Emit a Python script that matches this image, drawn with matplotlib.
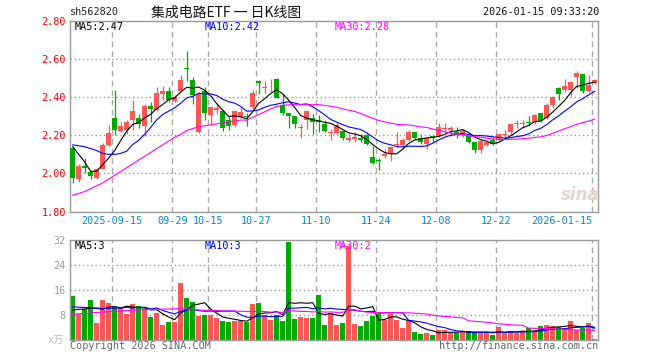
import numpy as np
import pandas as pd
import matplotlib
matplotlib.use("Agg")
import matplotlib.pyplot as plt

# daily candles (price)
opens = [2.135, 1.972, 2.04, 2.007, 1.977, 2.025, 2.149, 2.291, 2.225, 2.228,
         2.281, 2.291, 2.249, 2.354, 2.333, 2.419, 2.433, 2.38, 2.433, 2.554,
         2.491, 2.219, 2.43, 2.307, 2.335, 2.325, 2.279, 2.254, 2.297, 2.302,
         2.346, 2.486, 2.447, 2.451, 2.497, 2.36, 2.316, 2.302, 2.237, 2.279,
         2.29, 2.279, 2.261, 2.212, 2.214, 2.223, 2.177, 2.181, 2.184, 2.202,
         2.086, 2.072, 2.09, 2.10, 2.149, 2.149, 2.175, 2.216, 2.184, 2.153,
         2.195, 2.198, 2.233, 2.226, 2.219, 2.202, 2.196, 2.163, 2.123, 2.149,
         2.175, 2.175, 2.202, 2.216, 2.258, 2.258, 2.272, 2.268, 2.316, 2.29,
         2.36, 2.447, 2.437, 2.44, 2.504, 2.521, 2.43, 2.474]
highs = [2.14, 2.049, 2.079, 2.018, 2.03, 2.158, 2.254, 2.439, 2.27, 2.281,
         2.386, 2.312, 2.365, 2.375, 2.454, 2.46, 2.454, 2.41, 2.519, 2.644,
         2.507, 2.425, 2.456, 2.351, 2.37, 2.333, 2.302, 2.333, 2.351, 2.316,
         2.439, 2.491, 2.486, 2.495, 2.499, 2.416, 2.318, 2.303, 2.258, 2.333,
         2.311, 2.304, 2.281, 2.233, 2.263, 2.228, 2.209, 2.216, 2.205, 2.209,
         2.144, 2.079, 2.128, 2.14, 2.216, 2.188, 2.226, 2.219, 2.205, 2.191,
         2.202, 2.265, 2.265, 2.247, 2.244, 2.233, 2.202, 2.165, 2.175, 2.17,
         2.193, 2.209, 2.226, 2.261, 2.279, 2.279, 2.30, 2.314, 2.317, 2.367,
         2.405, 2.451, 2.495, 2.48, 2.539, 2.523, 2.514, 2.493]
lows = [1.95, 1.956, 2.004, 1.972, 1.972, 2.021, 2.144, 2.202, 2.218, 2.205,
        2.228, 2.239, 2.197, 2.27, 2.326, 2.386, 2.375, 2.375, 2.43, 2.486,
        2.365, 2.212, 2.281, 2.254, 2.31, 2.223, 2.228, 2.246, 2.29, 2.251,
        2.339, 2.416, 2.421, 2.426, 2.395, 2.307, 2.24, 2.24, 2.188, 2.233,
        2.209, 2.216, 2.216, 2.175, 2.207, 2.175, 2.167, 2.167, 2.163, 2.149,
        2.047, 2.018, 2.079, 2.065, 2.14, 2.135, 2.17, 2.181, 2.153, 2.128,
        2.163, 2.191, 2.216, 2.195, 2.188, 2.191, 2.158, 2.105, 2.109, 2.146,
        2.149, 2.17, 2.188, 2.205, 2.24, 2.237, 2.251, 2.261, 2.272, 2.286,
        2.342, 2.386, 2.426, 2.405, 2.447, 2.421, 2.426, 2.468]
closes = [1.977, 2.04, 2.03, 1.986, 2.025, 2.149, 2.212, 2.228, 2.249, 2.27,
          2.328, 2.258, 2.354, 2.34, 2.423, 2.433, 2.386, 2.402, 2.491, 2.547,
          2.412, 2.415, 2.316, 2.346, 2.342, 2.24, 2.251, 2.328, 2.321, 2.295,
          2.423, 2.472, 2.451, 2.454, 2.398, 2.316, 2.302, 2.261, 2.244, 2.328,
          2.272, 2.272, 2.223, 2.219, 2.254, 2.184, 2.184, 2.193, 2.174, 2.153,
          2.055, 2.065, 2.10, 2.139, 2.156, 2.175, 2.219, 2.188, 2.163, 2.188,
          2.188, 2.244, 2.24, 2.24, 2.202, 2.223, 2.167, 2.123, 2.17, 2.163,
          2.153, 2.205, 2.209, 2.258, 2.265, 2.263, 2.265, 2.307, 2.276, 2.36,
          2.402, 2.416, 2.461, 2.479, 2.526, 2.433, 2.465, 2.491]
volumes = [14.1, 8.4, 9.8, 12.8, 5.5, 12.8, 11.8, 10.7, 10.5, 8.3,
           11.5, 10.9, 10.0, 7.4, 8.7, 4.8, 5.8, 5.8, 18.3, 13.4,
           12.2, 7.8, 7.9, 8.0, 7.0, 6.1, 5.8, 6.2, 6.2, 5.8,
           11.5, 11.8, 7.9, 6.5, 7.9, 6.2, 31.4, 6.7, 7.4, 7.1,
           7.1, 14.4, 4.8, 8.8, 4.8, 5.4, 30.1, 5.1, 4.5, 6.1,
           7.7, 8.3, 6.4, 8.3, 6.4, 3.8, 6.4, 2.6, 1.9, 2.2,
           1.6, 3.2, 3.2, 2.2, 2.2, 2.6, 2.9, 2.6, 2.2, 2.2,
           1.6, 4.2, 2.2, 2.9, 2.2, 2.6, 3.8, 2.9, 4.5, 4.8,
           4.5, 4.2, 3.8, 6.1, 3.2, 3.8, 5.4, 0.3]

# moving average values before their window fills (earlier days are off-chart)
ma5_head = [2.14, 2.10, 2.06, 2.01]
ma10_head = [2.15, 2.145, 2.14, 2.13, 2.12, 2.105, 2.10, 2.10, 2.105]
ma30_head = [1.885, 1.895, 1.905, 1.92, 1.935, 1.95, 1.97, 1.99, 2.01, 2.03,
             2.05, 2.07, 2.09, 2.11, 2.13, 2.15, 2.17, 2.19, 2.205, 2.225,
             2.235, 2.245, 2.25, 2.255, 2.26, 2.265, 2.27, 2.275, 2.28]
vol_ma5_head = [9.6, 9.8, 9.9, 10.2]
vol_ma10_head = [10.6, 10.5, 10.4, 10.3, 10.2, 10.1, 10.1, 10.2, 10.2]
vol_ma30_head = [8.2, 8.4, 8.5, 8.7, 8.8, 8.9, 9.1, 9.2, 9.3, 9.4,
                 9.5, 9.6, 9.7, 9.8, 9.8, 9.9, 9.9, 10.0, 10.0, 9.9,
                 9.8, 9.6, 9.5, 9.4, 9.4, 9.3, 9.3, 9.2, 9.2]

tick_pos = [7, 17, 23, 31, 41, 51, 61, 71, 87]
tick_labels = ["2025-09-15", "09-29", "10-15", "10-27", "11-10",
               "11-24", "12-08", "12-22", "2026-01-15"]
price_ticks = [1.80, 2.00, 2.20, 2.40, 2.60, 2.80]
vol_ticks = [8, 16, 24, 32]

RED = "#ff5555"
GREEN = "#00aa00"
MONO = "DejaVu Sans Mono"
FS = 7.3


def moving_average(values, n, head):
    s = pd.Series(values, dtype=float).rolling(n).mean()
    s.iloc[:n - 1] = head
    return s.values


def draw_grid(ax, hlines):
    for p in tick_pos:
        ax.axvline(p - 0.4, color="#aaaaaa", linestyle=(0, (4, 3)), linewidth=1, zorder=0)
    for h in hlines:
        ax.axhline(h, color="#999999", linestyle=(0, (1, 2)), linewidth=1, zorder=0)
    for s in ax.spines.values():
        s.set_color("#999999")
        s.set_linewidth(1)
    ax.tick_params(length=0)
    ax.set_xticks([])


fig = plt.figure(figsize=(6.6, 3.6), dpi=100)
W, H = 660.0, 360.0
ax = fig.add_axes([70 / W, 1 - 211.5 / H, 528 / W, 190.5 / H])
axv = fig.add_axes([70 / W, 1 - 340 / H, 528 / W, 100 / H])

x = np.arange(len(closes))
up = [c >= o for o, c in zip(opens, closes)]
colors = [RED if u else GREEN for u in up]

# candles
ax.vlines(x, lows, highs, colors=colors, linewidth=0.9, zorder=2)
bottoms = [min(o, c) for o, c in zip(opens, closes)]
heights = [max(abs(c - o), 0.005) for o, c in zip(opens, closes)]
ax.bar(x, heights, bottom=bottoms, width=0.8, color=colors, zorder=3)

ma5 = moving_average(closes, 5, ma5_head)
ma10 = moving_average(closes, 10, ma10_head)
ma30 = moving_average(closes, 30, ma30_head)
ax.plot(x, ma5, color="black", linewidth=0.8, zorder=4)
ax.plot(x, ma10, color="#0000ff", linewidth=0.8, zorder=4)
ax.plot(x, ma30, color="#ff00ff", linewidth=0.8, zorder=4)

ax.set_xlim(-0.45, len(closes) - 0.45)
ax.set_ylim(1.80, 2.80)
draw_grid(ax, [2.0, 2.2, 2.4, 2.6])
ax.set_yticks(price_ticks)
ax.set_yticklabels([f"{p:.2f}" for p in price_ticks], color="#ff0000",
                   fontsize=FS, family=MONO)
ax.tick_params(axis="y", pad=3)

for p, lab in zip(tick_pos, tick_labels):
    ha = "right" if lab == tick_labels[-1] else "center"
    ax.text(p - 0.4, -0.05, lab, transform=ax.get_xaxis_transform(), ha=ha, va="center",
            color="#0a84d0", fontsize=FS, family=MONO)

# volume
axv.bar(x, volumes, width=0.8, color=colors, zorder=2)
axv.plot(x, moving_average(volumes, 5, vol_ma5_head), color="black", linewidth=0.8, zorder=4)
axv.plot(x, moving_average(volumes, 10, vol_ma10_head), color="#0000ff", linewidth=0.8, zorder=4)
axv.plot(x, moving_average(volumes, 30, vol_ma30_head), color="#ff00ff", linewidth=0.8, zorder=4)
axv.set_xlim(-0.45, len(closes) - 0.45)
axv.set_ylim(0, 32)
draw_grid(axv, [8, 16, 24])
axv.set_yticks(vol_ticks)
axv.set_yticklabels([str(v) for v in vol_ticks], color="#999999", fontsize=FS, family=MONO)
axv.tick_params(axis="y", pad=3)


def ftext(px, py, s, **kw):
    kw.setdefault("fontsize", FS)
    kw.setdefault("family", MONO)
    kw.setdefault("va", "center")
    fig.text(px / W, 1 - py / H, s, **kw)


ftext(70, 12, "sh562820", color="#222222")
ftext(226, 13, "集成电路ETF 一 日K线图", fontsize=10, ha="center",
      family=["Noto Sans CJK SC", "DejaVu Sans"], color="#111111")
ftext(599, 12, "2026-01-15 09:33:20", ha="right", color="#111111")

ftext(75, 27, "MA5:2.47", color="black")
ftext(205, 27, "MA10:2.42", color="#0000ff")
ftext(335, 27, "MA30:2.28", color="#ff00ff")
ftext(75, 246, "MA5:3", color="black")
ftext(205, 246, "MA10:3", color="#0000ff")
ftext(335, 246, "MA30:2", color="#ff00ff")

ftext(64, 340, "x万", ha="right", color="#bbbbbb",
      family=["DejaVu Sans Mono", "Noto Sans CJK SC"])
ftext(70, 346, "Copyright 2026 SINA.COM", color="#666666")
ftext(598, 346, "http://finance.sina.com.cn", ha="right", color="#666666")

# sina watermark
ftext(580, 195, "sina", fontsize=12, ha="center", style="italic", weight="bold",
      family="DejaVu Sans", color="#e8d4d4")

fig.savefig("out.png", dpi=100)
